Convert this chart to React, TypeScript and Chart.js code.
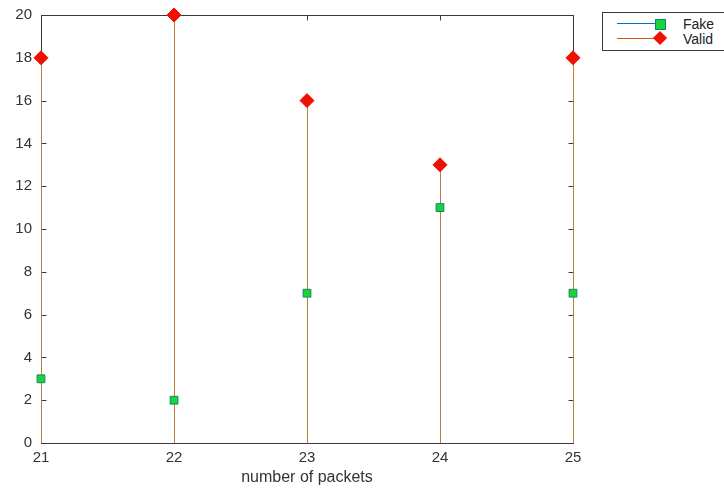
import React, { useEffect, useRef } from "react";
import { Chart, registerables } from "chart.js";

Chart.register(...registerables);

const packets = [21, 22, 23, 24, 25];
const fakeValues = [3, 2, 7, 11, 7];
const validValues = [18, 20, 16, 13, 18];
const yTicks = [0, 2, 4, 6, 8, 10, 12, 14, 16, 18, 20];
const seriesNames = ["Fake", "Valid"];
const xTitle = "number of packets";

const FAKE_STEM = "#0072BD";
const VALID_STEM = "#c07a3a";

const stemBoxPlugin = {
  id: "stemBox",
  beforeDatasetsDraw(chart: any) {
    const { ctx, chartArea, scales } = chart;
    const xs = scales.x;
    const ys = scales.y;
    const y0 = ys.getPixelForValue(0);
    ctx.save();
    // box
    ctx.strokeStyle = "#3a3a3a";
    ctx.lineWidth = 1;
    const l = Math.round(chartArea.left) + 0.5;
    const r = Math.round(chartArea.right) + 0.5;
    const t = Math.round(chartArea.top) + 0.5;
    const b = Math.round(chartArea.bottom) + 0.5;
    ctx.strokeRect(l, t, r - l, b - t);
    // inward ticks
    yTicks.forEach((v) => {
      const py = Math.round(ys.getPixelForValue(v)) + 0.5;
      ctx.beginPath();
      ctx.moveTo(l, py);
      ctx.lineTo(l + 5, py);
      ctx.moveTo(r, py);
      ctx.lineTo(r - 5, py);
      ctx.stroke();
    });
    packets.forEach((v) => {
      const px = Math.round(xs.getPixelForValue(v)) + 0.5;
      ctx.beginPath();
      ctx.moveTo(px, b);
      ctx.lineTo(px, b - 5);
      ctx.moveTo(px, t);
      ctx.lineTo(px, t + 5);
      ctx.stroke();
    });
    // stems
    chart.data.datasets.forEach((ds: any) => {
      ctx.strokeStyle = ds.stemColor;
      ctx.lineWidth = 1;
      ds.data.forEach((p: any) => {
        const px = Math.round(xs.getPixelForValue(p.x)) + 0.5;
        ctx.beginPath();
        ctx.moveTo(px, y0);
        ctx.lineTo(px, ys.getPixelForValue(p.y));
        ctx.stroke();
      });
    });
    ctx.restore();
  },
};

export default function App() {
  const ref = useRef<HTMLCanvasElement>(null);
  useEffect(() => {
    if (!ref.current) return;
    const chart = new Chart(ref.current, {
      type: "scatter",
      data: {
        datasets: [
          {
            label: seriesNames[0],
            data: packets.map((x, i) => ({ x, y: fakeValues[i] })),
            stemColor: FAKE_STEM,
            pointStyle: "rect",
            pointRadius: 5.5,
            backgroundColor: "#19d23f",
            borderColor: "#0f8a5a",
            borderWidth: 1,
            clip: false,
          } as any,
          {
            label: seriesNames[1],
            data: packets.map((x, i) => ({ x, y: validValues[i] })),
            stemColor: VALID_STEM,
            pointStyle: "rectRot",
            pointRadius: 7,
            backgroundColor: "#ee1100",
            borderColor: "#ee1100",
            borderWidth: 1,
            clip: false,
          } as any,
        ],
      },
      options: {
        animation: false,
        responsive: false,
        maintainAspectRatio: false,
        layout: { padding: { top: 0, right: 151, left: 0, bottom: 0 } },
        plugins: {
          legend: { display: false },
          tooltip: { enabled: false },
        },
        scales: {
          x: {
            type: "linear",
            min: 21,
            max: 25,
            afterBuildTicks: (s: any) => {
              s.ticks = packets.map((v) => ({ value: v }));
            },
            afterFit: (s: any) => {
              s.height = 48;
            },
            grid: { display: false, drawTicks: false },
            border: { display: false },
            ticks: {
              color: "#333",
              padding: 6,
              font: { family: "Liberation Sans, Arial, sans-serif", size: 15 },
              maxRotation: 0,
            },
            title: {
              display: true,
              text: xTitle,
              color: "#333",
              padding: { top: 2, bottom: 4 },
              font: { family: "Liberation Sans, Arial, sans-serif", size: 16 },
            },
          },
          y: {
            type: "linear",
            min: 0,
            max: 20,
            afterBuildTicks: (s: any) => {
              s.ticks = yTicks.map((v) => ({ value: v }));
            },
            afterFit: (s: any) => {
              s.width = 41;
              s.paddingTop = 15;
            },
            grid: { display: false, drawTicks: false },
            border: { display: false },
            ticks: {
              color: "#333",
              padding: 9,
              font: { family: "Liberation Sans, Arial, sans-serif", size: 15 },
            },
          },
        },
      } as any,
      plugins: [stemBoxPlugin],
    });
    return () => chart.destroy();
  }, []);

  const legendRow = (name: string, lineColor: string, marker: React.ReactNode) => (
    <div style={{ display: "flex", alignItems: "center", height: 15 }}>
      <div style={{ position: "relative", width: 48, height: 15, marginLeft: 14 }}>
        <div
          style={{
            position: "absolute",
            left: 0,
            right: 6,
            top: 7,
            height: 1,
            background: lineColor,
          }}
        />
        {marker}
      </div>
      <span style={{ marginLeft: 18, fontSize: 14, color: "#222" }}>{name}</span>
    </div>
  );

  return (
    <div
      style={{
        position: "fixed",
        left: 0,
        top: 0,
        width: 724,
        height: 491,
        background: "#fff",
        fontFamily: "Liberation Sans, Arial, sans-serif",
      }}
    >
      <canvas ref={ref} width={724} height={491} style={{ display: "block" }} />
      <div
        style={{
          position: "absolute",
          left: 602,
          top: 12,
          width: 140,
          height: 39,
          border: "1px solid #3a3a3a",
          background: "#fff",
          paddingTop: 3,
          boxSizing: "border-box",
        }}
      >
        {legendRow(
          seriesNames[0],
          FAKE_STEM,
          <div
            style={{
              position: "absolute",
              left: 38,
              top: 3,
              width: 9,
              height: 9,
              background: "#19d23f",
              border: "1px solid #0f8a5a",
            }}
          />
        )}
        {legendRow(
          seriesNames[1],
          "#D95319",
          <div
            style={{
              position: "absolute",
              left: 38,
              top: 2,
              width: 10,
              height: 10,
              background: "#ee1100",
              transform: "rotate(45deg)",
            }}
          />
        )}
      </div>
    </div>
  );
}
